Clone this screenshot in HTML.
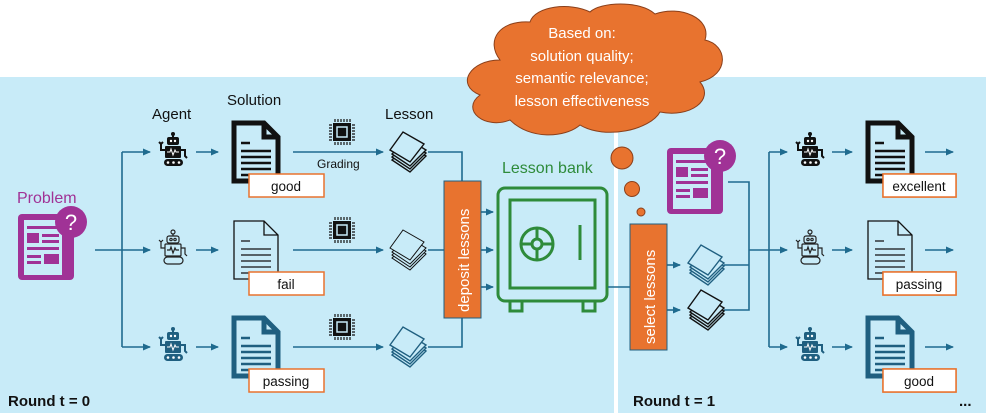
<!DOCTYPE html>
<html><head><meta charset="utf-8"><style>
body{margin:0;background:#fff;}
svg{display:block;font-family:"Liberation Sans",sans-serif;}
</style></head><body>
<svg width="987" height="416" viewBox="0 0 987 416" xmlns="http://www.w3.org/2000/svg">
<defs>
<marker id="ar" markerWidth="8" markerHeight="8" refX="7" refY="4" orient="auto" markerUnits="userSpaceOnUse"><path d="M0,0.5 L8,4 L0,7.5 z" fill="#1f6b8f"/></marker>
<g id="docp"><path d="M2,2 H32 L46,16 V60 H2 Z M32,2 V16 H46" fill="none" stroke-linejoin="miter"/></g>
<g id="lines"><path d="M9,22 H18 M9,30 H39 M9,36 H39 M9,42 H39 M9,48 H39 M9,54 H39" fill="none"/></g>
<g id="robot">
<circle cx="15" cy="2" r="2"/><rect x="14" y="2" width="2" height="4"/>
<rect x="9" y="5" width="12" height="8" rx="2"/>
<rect x="7" y="14" width="16" height="12" rx="1"/>
<path d="M7,18 H3 V11 M1,10 L3,12 L5,10 M23,18 H27 V24 L29,26" fill="none" stroke-width="2" stroke="currentColor"/>
<rect x="6" y="27" width="19" height="7" rx="3.5"/>
<circle cx="10" cy="30.5" r="1.3" fill="#fff"/><circle cx="15.5" cy="30.5" r="1.3" fill="#fff"/><circle cx="21" cy="30.5" r="1.3" fill="#fff"/>
<path d="M9,20 H12 L13,17 L15,23 L17,18 L18,20 H21" stroke="#fff" fill="none" stroke-width="1"/>
<circle cx="13" cy="9" r="1.2" fill="#fff"/><circle cx="17" cy="9" r="1.2" fill="#fff"/>
</g>
<g id="robotO" fill="none" stroke="#222" stroke-width="1.2">
<circle cx="15" cy="2" r="2"/><path d="M15,4 V6"/>
<rect x="9" y="6" width="12" height="7" rx="2"/>
<rect x="7" y="14" width="16" height="12" rx="1"/>
<path d="M7,18 H3 V11 M1,10 L3,12 L5,10 M23,18 H27 V24 L29,26"/>
<rect x="6" y="27" width="19" height="7" rx="3.5"/>
<circle cx="13" cy="9.5" r="1.2"/><circle cx="17" cy="9.5" r="1.2"/>
<path d="M9,20 H12 L13,17 L15,23 L17,18 L18,20 H21"/>
</g>
<g id="chip">
<rect x="6" y="6" width="18" height="18" fill="#111"/>
<rect x="10" y="10" width="10" height="10" fill="none" stroke="#c8ebf8" stroke-width="1.5"/>
<path d="M8,2 V5 M11,2 V5 M14,2 V5 M17,2 V5 M20,2 V5 M23,2 V5 M8,25 V28 M11,25 V28 M14,25 V28 M17,25 V28 M20,25 V28 M23,25 V28 M2,8 H5 M2,11 H5 M2,14 H5 M2,17 H5 M2,20 H5 M2,23 H5 M25,8 H28 M25,11 H28 M25,14 H28 M25,17 H28 M25,20 H28 M25,23 H28" stroke="#111" stroke-width="1.2"/>
</g>
<g id="stack" fill="#c8ebf8">
<path d="M6,22 L22,7 L40,18 L24,34 Z" transform="translate(0,8)"/>
<path d="M6,22 L22,7 L40,18 L24,34 Z" transform="translate(0,5)"/>
<path d="M6,22 L22,7 L40,18 L24,34 Z" transform="translate(0,2)"/>
<path d="M4,20 L17,2 L38,14 L24,32 Z"/>
</g>
<g id="prob">
<rect x="2" y="8" width="56" height="66" rx="4" fill="#a03296"/>
<rect x="8" y="14" width="44" height="55" fill="#c8ebf8"/>
<rect x="46" y="14" width="6" height="55" fill="#a03296"/>
<rect x="11" y="20" width="32" height="3" fill="#a03296"/>
<rect x="11" y="27" width="12" height="10" fill="#a03296"/><rect x="26" y="28" width="17" height="3" fill="#a03296"/><rect x="26" y="34" width="17" height="3" fill="#a03296"/>
<rect x="11" y="41" width="32" height="3" fill="#a03296"/>
<rect x="11" y="49" width="14" height="3" fill="#a03296"/><rect x="28" y="48" width="15" height="10" fill="#a03296"/><rect x="11" y="55" width="14" height="3" fill="#a03296"/>
<circle cx="55" cy="16" r="16" fill="#a03296"/>
<text x="55" y="24" font-size="22" fill="#fff" text-anchor="middle">?</text>
</g>
</defs>

<!-- panels -->
<rect x="0" y="77" width="614" height="336" fill="#c8ebf8"/>
<rect x="618" y="77" width="368" height="336" fill="#c8ebf8"/>

<!-- cloud -->
<g fill="#e8732f" stroke="#8a3f1a" stroke-width="1">
<path d="M500,60 C470,60 455,85 480,95 C460,110 485,130 510,120 C530,140 565,138 580,125 C605,140 650,130 660,112 C690,118 715,100 700,82 C730,75 728,45 705,40 C712,18 680,5 655,14 C640,0 600,2 590,12 C570,2 535,6 530,22 C500,20 485,40 500,60 Z"/>
</g>
<g fill="#fff" font-size="15" text-anchor="middle">
<text x="582" y="38">Based on:</text>
<text x="582" y="61">solution quality;</text>
<text x="582" y="83">semantic relevance;</text>
<text x="582" y="106">lesson effectiveness</text>
</g>
<g fill="#e8732f" stroke="#8a3f1a" stroke-width="1">
<circle cx="622" cy="158" r="11"/><circle cx="632" cy="189" r="7.5"/><circle cx="641" cy="212" r="4"/>
</g>

<!-- left panel -->
<text x="17" y="203" font-size="16" fill="#a03296">Problem</text>
<use href="#prob" x="16" y="206"/>
<g stroke="#1f6b8f" stroke-width="1.6" fill="none">
<path d="M95,250 H150" marker-end="url(#ar)"/>
<path d="M122,152 V347"/>
<path d="M122,152 H150" marker-end="url(#ar)"/>
<path d="M122,347 H150" marker-end="url(#ar)"/>
<path d="M196,152 H218" marker-end="url(#ar)"/>
<path d="M196,250 H218" marker-end="url(#ar)"/>
<path d="M196,347 H218" marker-end="url(#ar)"/>
<path d="M293,152 H383" marker-end="url(#ar)"/>
<path d="M293,250 H383" marker-end="url(#ar)"/>
<path d="M293,347 H383" marker-end="url(#ar)"/>
<path d="M428,152 H462 V347 H428 M428,250 H444"/>
<path d="M481,212 H493" marker-end="url(#ar)"/>
<path d="M481,250 H493" marker-end="url(#ar)"/>
<path d="M481,287 H493" marker-end="url(#ar)"/>
</g>
<g font-size="15" fill="#111">
<text x="152" y="119">Agent</text>
<text x="227" y="105">Solution</text>
<text x="385" y="119">Lesson</text>
<text x="317" y="168" font-size="12">Grading</text>
</g>
<use href="#robot" x="158" y="132" fill="#111" color="#111"/>
<use href="#robotO" x="158" y="230"/>
<use href="#robot" x="158" y="327" fill="#1f5f80" color="#1f5f80"/>

<use href="#docp" x="232" y="52" transform="translate(0,69)" stroke="#111" stroke-width="5"/>
<use href="#lines" x="232" y="121" stroke="#111" stroke-width="2.5"/>
<use href="#docp" x="232" y="219" stroke="#111" stroke-width="1.3"/>
<use href="#lines" x="232" y="219" stroke="#111" stroke-width="1.2"/>
<use href="#docp" x="232" y="316" stroke="#1f5f80" stroke-width="5"/>
<use href="#lines" x="232" y="316" stroke="#1f5f80" stroke-width="2.5"/>

<g fill="#fff" stroke="#e8732f" stroke-width="1.5">
<rect x="249" y="174" width="75" height="23"/>
<rect x="249" y="272" width="75" height="23"/>
<rect x="249" y="369" width="75" height="23"/>
<rect x="883" y="174" width="73" height="23"/>
<rect x="883" y="272" width="73" height="23"/>
<rect x="883" y="369" width="73" height="23"/>
</g>
<g font-size="13.5" fill="#111" text-anchor="middle">
<text x="286" y="191">good</text>
<text x="286" y="289">fail</text>
<text x="286" y="386">passing</text>
<text x="919" y="191">excellent</text>
<text x="919" y="289">passing</text>
<text x="919" y="386">good</text>
</g>

<use href="#chip" x="327" y="117"/>
<use href="#chip" x="327" y="215"/>
<use href="#chip" x="327" y="312"/>
<use href="#stack" x="386" y="130" stroke="#111" stroke-width="1.4"/>
<use href="#stack" x="386" y="228" stroke="#111" stroke-width="1"/>
<use href="#stack" x="386" y="325" stroke="#1f5f80" stroke-width="1.4"/>

<rect x="444" y="181" width="37" height="137" fill="#e8732f" stroke="#1f5f80" stroke-width="1"/>
<text transform="translate(469,312) rotate(-90)" font-size="15" fill="#fff">deposit lessons</text>

<!-- safe -->
<text x="502" y="173" font-size="16" fill="#2e8b3a">Lesson bank</text>
<g fill="none" stroke="#2e8b3a" stroke-width="3">
<rect x="498" y="188" width="109" height="113" rx="7"/>
<rect x="510" y="200" width="85" height="88"/>
<rect x="510" y="301" width="12" height="10"/>
<rect x="583" y="301" width="12" height="10"/>
<circle cx="537" cy="244" r="16"/>
<circle cx="537" cy="244" r="5"/>
<path d="M537,228 V239 M537,249 V260 M521,244 H532 M542,244 H553"/>
<path d="M580,225 V260"/>
</g>

<text x="8" y="406" font-size="15" font-weight="bold" fill="#111">Round t = 0</text>

<!-- right panel -->
<use href="#prob" x="665" y="140"/>
<g stroke="#1f6b8f" stroke-width="1.6" fill="none">
<path d="M608,287 H630"/>
<path d="M667,265 H680" marker-end="url(#ar)"/>
<path d="M667,310 H680" marker-end="url(#ar)"/>
<path d="M728,182 H749 V310 H724 M724,265 H749 M749,250 H787" marker-end="url(#ar)"/>
<path d="M769,152 V347"/>
<path d="M769,152 H787" marker-end="url(#ar)"/>
<path d="M769,347 H787" marker-end="url(#ar)"/>
<path d="M832,152 H852" marker-end="url(#ar)"/>
<path d="M832,250 H852" marker-end="url(#ar)"/>
<path d="M832,347 H852" marker-end="url(#ar)"/>
<path d="M925,152 H953" marker-end="url(#ar)"/>
<path d="M925,250 H953" marker-end="url(#ar)"/>
<path d="M925,347 H953" marker-end="url(#ar)"/>
</g>
<rect x="630" y="224" width="37" height="126" fill="#e8732f" stroke="#1f5f80" stroke-width="1"/>
<text transform="translate(655,344) rotate(-90)" font-size="15" fill="#fff">select lessons</text>
<use href="#stack" x="684" y="243" stroke="#1f5f80" stroke-width="1.4"/>
<use href="#stack" x="684" y="288" stroke="#111" stroke-width="1.4"/>

<use href="#robot" x="795" y="132" fill="#111" color="#111"/>
<use href="#robotO" x="795" y="230"/>
<use href="#robot" x="795" y="327" fill="#1f5f80" color="#1f5f80"/>
<use href="#docp" x="866" y="121" stroke="#111" stroke-width="5"/>
<use href="#lines" x="866" y="121" stroke="#111" stroke-width="2.5"/>
<use href="#docp" x="866" y="219" stroke="#111" stroke-width="1.3"/>
<use href="#lines" x="866" y="219" stroke="#111" stroke-width="1.2"/>
<use href="#docp" x="866" y="316" stroke="#1f5f80" stroke-width="5"/>
<use href="#lines" x="866" y="316" stroke="#1f5f80" stroke-width="2.5"/>
<g fill="#fff" stroke="#e8732f" stroke-width="1.5">
<rect x="883" y="174" width="73" height="23"/>
<rect x="883" y="272" width="73" height="23"/>
<rect x="883" y="369" width="73" height="23"/>
</g>
<g font-size="13.5" fill="#111" text-anchor="middle">
<text x="919" y="191">excellent</text>
<text x="919" y="289">passing</text>
<text x="919" y="386">good</text>
</g>
<text x="633" y="406" font-size="15" font-weight="bold" fill="#111">Round t = 1</text>
<text x="959" y="406" font-size="15" font-weight="bold" fill="#111">...</text>
</svg>
</body></html>
